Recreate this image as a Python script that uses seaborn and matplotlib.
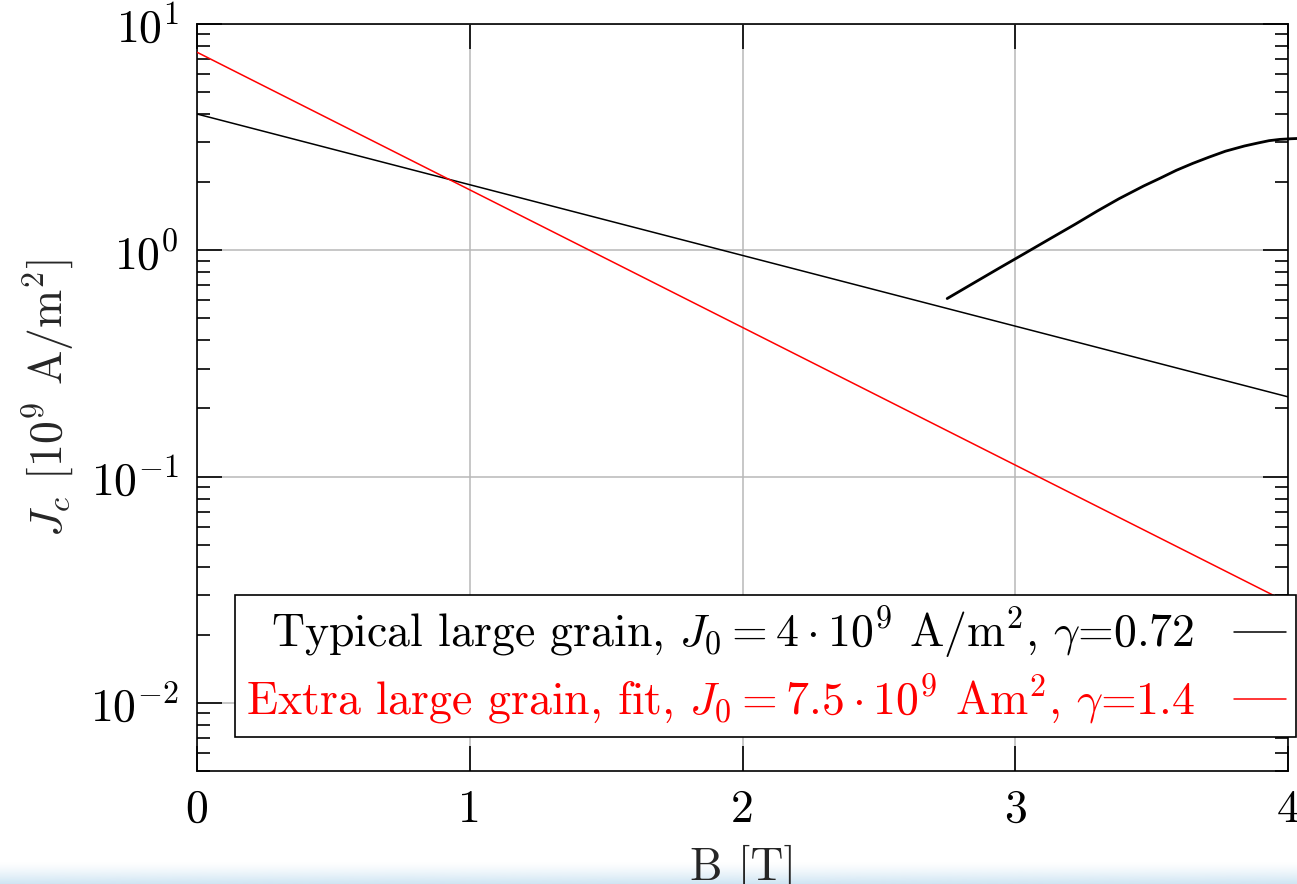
import numpy as np
import pandas as pd
import matplotlib
matplotlib.use("Agg")
import matplotlib.pyplot as plt
from matplotlib.colors import to_rgb
import seaborn as sns

# Field values (T) and critical current densities (10^9 A/m^2)
b_fit = [0.0, 4.0]
jc_typical = [4.0, 0.225]      # J0 = 4, gamma = 0.72
jc_extra = [7.5, 0.0277]       # J0 = 7.5, gamma = 1.4

b_meas = [2.75, 2.85, 2.94, 3.03, 3.13, 3.22, 3.30, 3.38, 3.47, 3.53,
          3.59, 3.65, 3.71, 3.77, 3.84, 3.89, 3.93, 3.97, 4.01, 4.04]
jc_meas = [0.612, 0.720, 0.833, 0.962, 1.13, 1.305, 1.49, 1.69, 1.923, 2.08,
           2.256, 2.42, 2.58, 2.74, 2.89, 2.98, 3.05, 3.09, 3.11, 3.12]

label_typical = r"Typical large grain, $J_0 = 4\cdot 10^9$ A$/$m$^2$, $\gamma$=0.72"
label_extra = r"Extra large grain, fit, $J_0 = 7.5\cdot 10^9$ Am$^2$, $\gamma$=1.4"

FS = 33

sns.set_theme(style="ticks")
plt.rcParams.update({
    "font.family": "serif",
    "font.serif": ["cmr10", "DejaVu Serif"],
    "mathtext.fontset": "cm",
    "axes.formatter.use_mathtext": True,
    "axes.unicode_minus": True,
    "font.size": FS,
})

fig = plt.figure(figsize=(12.97, 8.84), dpi=100)
ax = fig.add_axes([0.1519, 0.1278, 0.8413, 0.8451], zorder=2)

df_fit = pd.DataFrame({"B": b_fit, "typ": jc_typical, "ext": jc_extra})
df_meas = pd.DataFrame({"B": b_meas, "J": jc_meas})

sns.lineplot(data=df_fit, x="B", y="typ", color="black", lw=1.1,
             label=label_typical, ax=ax, zorder=3)
sns.lineplot(data=df_fit, x="B", y="ext", color="red", lw=1.1,
             label=label_extra, ax=ax, zorder=3)
sns.lineplot(data=df_meas, x="B", y="J", color="black", lw=2.0,
             ax=ax, zorder=3, clip_on=False)

ax.set_yscale("log")
ax.set_xlim(0, 4)
ax.set_ylim(0.005, 10)
ax.set_xticks([0, 1, 2, 3, 4])
ax.set_xticklabels(["0", "1", "2", "3", "4"])

ax.grid(True, which="major", color="#b8b8b8", lw=1.1)
ax.grid(False, which="minor")
ax.set_axisbelow(True)

ax.tick_params(which="both", direction="in", top=True, right=True,
               colors="black", width=1.2)
ax.tick_params(which="major", length=18, pad=13, labelsize=FS)
ax.tick_params(which="minor", length=9.5)
ax.tick_params(axis="x", which="minor", bottom=False, top=False)
for s in ax.spines.values():
    s.set_color("black")
    s.set_linewidth(1.2)

ax.set_xlabel("B [T]", fontsize=FS, labelpad=10)
ax.set_ylabel(r"$J_c$ [$10^9$ A$/$m$^2$]", fontsize=FS, labelpad=10)

leg = ax.legend(loc="lower right", bbox_to_anchor=(1.0075, 0.0455),
                borderaxespad=0, markerfirst=False, labelcolor="linecolor",
                fancybox=False, framealpha=1, edgecolor="black",
                handlelength=1.15, handletextpad=0.85, borderpad=0.22,
                labelspacing=0.25, fontsize=FS)
leg.get_frame().set_linewidth(1.2)
leg.set_zorder(5)

# pale blue fade along the bottom edge, behind the text
band = fig.add_axes([0, 0, 1, 22 / 884], zorder=0)
rgba = np.ones((64, 1, 4))
rgba[..., :3] = to_rgb("#cfe5f3")
rgba[:, 0, 3] = np.linspace(1, 0, 64) ** 1.3
band.imshow(rgba, aspect="auto", extent=[0, 1, 0, 1], origin="lower")
band.set_axis_off()

fig.savefig("out.png", dpi=100)
